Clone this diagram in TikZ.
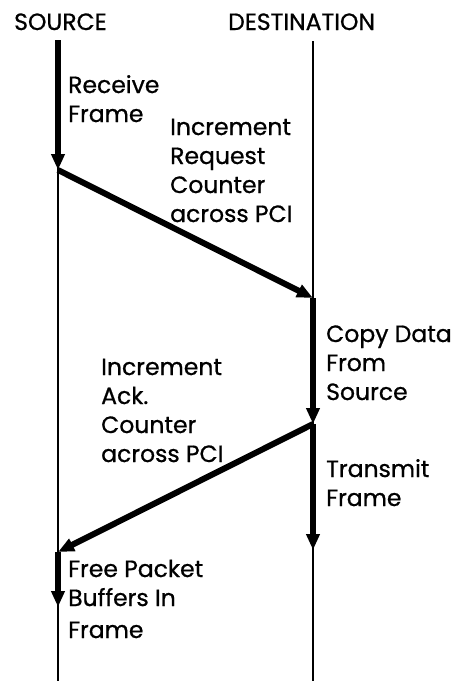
\documentclass[tikz,border=0pt]{standalone}
\usepackage{fontspec}
\setmainfont{Poppins}[FakeBold=0.8]
\usetikzlibrary{arrows.meta}
\newcommand{\lblstack}[1]{\vtop{\baselineskip=29pt #1}}
\begin{document}
\begin{tikzpicture}[x=1pt,y=-1pt,
  lifeline/.style={line width=2.8pt},
  flow/.style={line width=6pt,-{Triangle[length=16pt,width=13pt]}},
  head/.style={anchor=base west,inner sep=0pt,font=\fontsize{23.5}{28}\selectfont},
  lbl/.style={anchor=base west,inner sep=0pt,font=\fontsize{23.5}{29}\selectfont}]
\useasboundingbox (0,0) rectangle (452,681);
\node[head] (src) at (14,30) {SOURCE};
\node[head] (dst) at (228,30) {DESTINATION};
\coordinate (s0) at (58,40);
\coordinate (s1) at (58,170);
\coordinate (s2) at (58,552);
\coordinate (s3) at (58,607);
\coordinate (sE) at (58,681);
\coordinate (d0) at (313,41);
\coordinate (d1) at (313,298);
\coordinate (d2) at (313,424);
\coordinate (d3) at (313,550);
\coordinate (dE) at (313,681);
\draw[lifeline] (s0) -- (sE);
\draw[lifeline] (d0) -- (dE);
\draw[flow] (s0) -- (s1);
\draw[flow] (s1) -- (d1);
\draw[flow] (d1) -- (d2);
\draw[flow] (d2) -- (s2);
\draw[flow] (d2) -- (d3);
\draw[flow] (s2) -- (s3);
\node[lbl] (rf) at (68,93) {\lblstack{\hbox{Receive}\hbox{Frame}}};
\node[lbl] (irc) at (170,135) {\lblstack{\hbox{Increment}\hbox{Request}\hbox{Counter}\hbox{across PCI}}};
\node[lbl] (cd) at (326,342) {\lblstack{\hbox{Copy Data}\hbox{From}\hbox{Source}}};
\node[lbl] (iac) at (101,375) {\lblstack{\hbox{Increment}\hbox{Ack.}\hbox{Counter}\hbox{across PCI}}};
\node[lbl] (tf) at (326,477) {\lblstack{\hbox{Transmit}\hbox{Frame}}};
\node[lbl] (fp) at (68,577) {\vtop{\baselineskip=29pt\hbox{Free Packet}\hbox{Buffers In}\vskip 3pt\hbox{Frame}}};
\end{tikzpicture}
\end{document}
